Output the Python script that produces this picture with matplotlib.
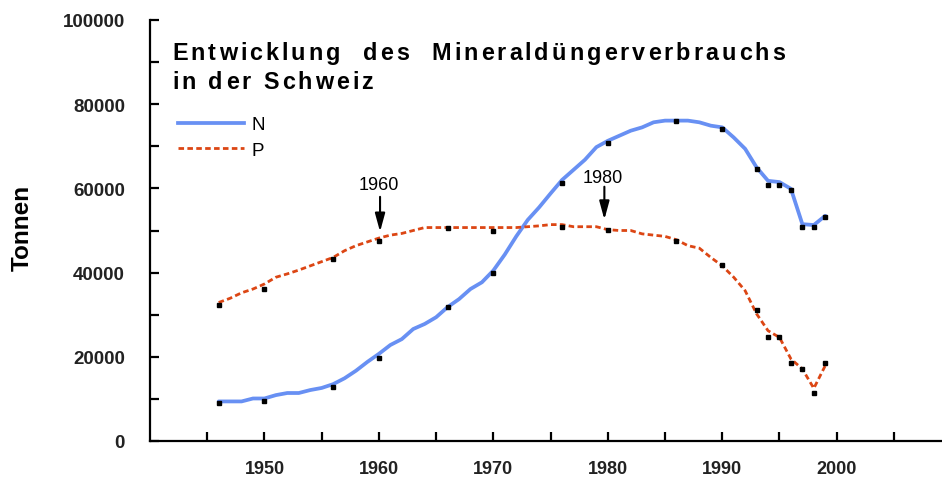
import numpy as np
import matplotlib
matplotlib.use('Agg')
import matplotlib.pyplot as plt
from matplotlib.lines import Line2D
from matplotlib.ticker import MultipleLocator, FixedLocator

plt.rcParams['font.family'] = ['Liberation Sans', 'DejaVu Sans']

# Jahreswerte (Tonnen)
years = np.arange(1946, 2000)
n_values = np.array([9.4, 9.4, 9.4, 10.1, 10.1, 10.9, 11.4, 11.4, 12.1, 12.6,
                     13.5, 14.9, 16.7, 18.8, 20.7, 22.8, 24.2, 26.6, 27.8, 29.4,
                     31.8, 33.7, 36.1, 37.7, 40.5, 44.3, 48.6, 52.5, 55.5, 58.8,
                     62.0, 64.4, 66.8, 69.8, 71.3, 72.5, 73.7, 74.5, 75.7, 76.1,
                     76.1, 76.1, 75.7, 74.9, 74.5, 72.1, 69.4, 65.0, 61.8, 61.5,
                     59.9, 51.5, 51.3, 53.5]) * 1000
p_values = np.array([32.9, 33.9, 35.2, 36.1, 37.3, 38.9, 39.7, 40.6, 41.6, 42.6,
                     43.6, 45.2, 46.4, 47.3, 48.2, 48.9, 49.3, 50.0, 50.7, 50.7,
                     50.7, 50.7, 50.7, 50.7, 50.7, 50.7, 50.7, 50.9, 51.1, 51.4,
                     51.4, 50.9, 50.9, 50.9, 50.2, 50.0, 50.0, 49.2, 48.9, 48.6,
                     47.8, 46.4, 45.8, 43.6, 41.6, 38.9, 35.7, 30.2, 26.2, 24.6,
                     19.5, 17.1, 12.5, 17.9]) * 1000

# Messpunkte (schwarze Markierungen)
mark_years = [1946, 1950, 1956, 1960, 1966, 1970, 1976, 1980, 1986, 1990,
              1993, 1994, 1995, 1996, 1997, 1998, 1999]
mark_n = np.array([9.0, 9.4, 12.8, 19.6, 31.8, 39.8, 61.4, 70.9, 75.9, 74.1,
                   64.6, 60.8, 60.8, 59.7, 50.9, 50.9, 53.2]) * 1000
mark_p = np.array([32.3, 36.1, 43.2, 47.5, 50.7, 50.0, 50.9, 50.1, 47.5, 41.8,
                   31.1, 24.6, 24.6, 18.5, 17.1, 11.4, 18.5]) * 1000

arrow_years = [1960.1, 1979.7]
arrow_labels = ['1960', '1980']

blue = '#6890f3'
red = '#dc4614'

W, H = 942, 481
fig = plt.figure(figsize=(W / 100, H / 100), dpi=100)
ax = fig.add_axes([150 / W, 1 - 442 / H, 792 / W, 421 / H])

ax.plot(years, n_values, color=blue, lw=2.7, solid_capstyle='round', zorder=3)
ax.plot(years, p_values, color=red, lw=2.0, dashes=(2.0, 1.2), zorder=3)
ax.plot(mark_years, mark_n, 's', color='black', ms=2.2, zorder=4)
ax.plot(mark_years, mark_p, 's', color='black', ms=2.2, zorder=4)

ax.set_xlim(1940, 2009.2)
ax.set_ylim(0, 100000)

for side in ['top', 'right']:
    ax.spines[side].set_visible(False)
for side in ['left', 'bottom']:
    ax.spines[side].set_linewidth(1.6)

ax.xaxis.set_major_locator(FixedLocator([1950, 1960, 1970, 1980, 1990, 2000]))
ax.xaxis.set_minor_locator(FixedLocator([1945, 1955, 1965, 1975, 1985, 1995, 2005]))
ax.yaxis.set_major_locator(MultipleLocator(20000))
ax.yaxis.set_minor_locator(MultipleLocator(10000))
ax.tick_params(which='both', direction='in', length=6.5, width=1.6)
ax.tick_params(axis='y', pad=18, labelsize=13.5)
ax.tick_params(axis='x', pad=14, labelsize=13)
for lab in ax.get_xticklabels() + ax.get_yticklabels():
    lab.set_fontweight('bold')
    lab.set_color('#222222')

fig.text(22 / W, 1 - 228 / H, 'Tonnen', rotation=90, fontsize=17.5,
         fontweight='bold', ha='center', va='center')

# Pfeile
for yr, lab, tip, tail, ty in zip(arrow_years, arrow_labels,
                                  [49700, 52600], [58000, 60400], [61000, 62600]):
    ax.annotate('', xy=(yr, tip), xytext=(yr, tail),
                arrowprops=dict(arrowstyle='-|>,head_length=0.55,head_width=0.15',
                                mutation_scale=20, color='black', lw=1.5,
                                shrinkA=0, shrinkB=0))
    ax.text(yr - 0.1, ty, lab, fontsize=13, ha='center', va='center')

# Legende
handles = [Line2D([], [], color=blue, lw=2.7),
           Line2D([], [], color=red, lw=2.0, dashes=(2.0, 1.2))]
ax.legend(handles, ['N', 'P'], loc='upper left', frameon=False, fontsize=13.5,
          handlelength=3.5, handletextpad=0.4, labelspacing=0.45,
          borderpad=0, borderaxespad=0,
          bbox_to_anchor=(178 / W, 1 - 117 / H), bbox_transform=fig.transFigure)

# Titel mit Sperrung (Buchstabe fuer Buchstabe)
title_kw = dict(fontsize=16.8, fontweight='bold')
renderer = fig.canvas.get_renderer()
track = 3.0


def ink_width(s):
    t = fig.text(0, 0, s, **title_kw)
    w = t.get_window_extent(renderer).width
    t.remove()
    return w


bar_w = ink_width('||')
adv_cache = {}


def advance(ch):
    if ch not in adv_cache:
        adv_cache[ch] = ink_width('|' + ch + '|') - bar_w
    return adv_cache[ch]


def word_width(word):
    return sum(advance(c) for c in word) + track * (len(word) - 1)


def draw_word(x, y, word):
    for ch in word:
        fig.text(x / W, 1 - y / H, ch, ha='left', va='baseline', **title_kw)
        x += advance(ch) + track


# Zeile 1: Blocksatz bis x = 785
words1 = ['Entwicklung', 'des', 'Mineraldüngerverbrauchs']
x0, x1 = 172, 785
gap = (x1 - x0 - sum(word_width(w) for w in words1)) / (len(words1) - 1)
x = x0
for w in words1:
    draw_word(x, 60, w)
    x += word_width(w) + gap

# Zeile 2: normale Wortabstaende
x = x0
for w in ['in', 'der', 'Schweiz']:
    draw_word(x, 89, w)
    x += word_width(w) + advance(' ') + track + 3

fig.savefig('out.png', dpi=100)
